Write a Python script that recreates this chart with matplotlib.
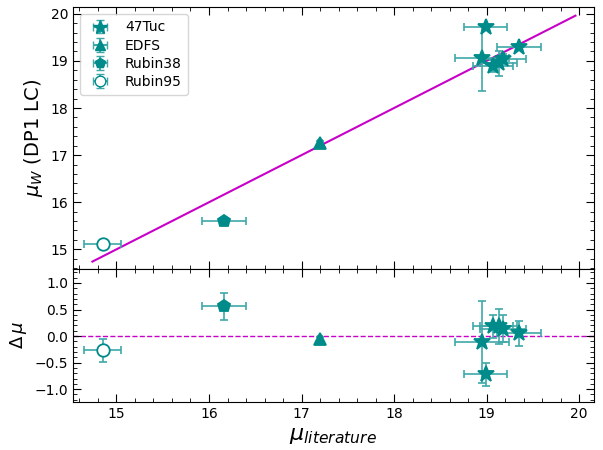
import matplotlib
matplotlib.use("Agg")
import matplotlib.pyplot as plt
from matplotlib.ticker import MultipleLocator
import numpy as np

# 47Tuc stars
tuc_x = [18.99, 19.35, 18.95, 19.07, 19.13, 19.18]
tuc_xerr = [0.23, 0.24, 0.29, 0.22, 0.20, 0.25]
tuc_y = [19.71, 19.30, 19.06, 18.89, 18.95, 19.04]
tuc_yerr = [0.05, 0.06, 0.70, 0.12, 0.27, 0.10]
tuc_d = [-0.72, 0.05, -0.11, 0.18, 0.18, 0.14]
tuc_derr = [0.22, 0.24, 0.77, 0.22, 0.33, 0.25]

# EDFS
edfs_x = [17.20]
edfs_xerr = [0.02]
edfs_y = [17.26]
edfs_yerr = [0.04]
edfs_d = [-0.06]
edfs_derr = [0.04]

# Rubin38
r38_x = [16.16]
r38_xerr = [0.24]
r38_y = [15.60]
r38_yerr = [0.02]
r38_d = [0.56]
r38_derr = [0.25]

# Rubin95
r95_x = [14.85]
r95_xerr = [0.20]
r95_y = [15.12]
r95_yerr = [0.02]
r95_d = [-0.27]
r95_derr = [0.21]

line_x = [14.74, 19.96]

col = '#008b8b'
ecol = '#40a8a8'

fig = plt.figure(figsize=(6.03, 4.5), dpi=100)
ax1 = fig.add_axes([0.121, 0.403, 0.864, 0.581])
ax2 = fig.add_axes([0.121, 0.107, 0.864, 0.296], sharex=ax1)

groups = [
    ('47Tuc', tuc_x, tuc_xerr, tuc_y, tuc_yerr, tuc_d, tuc_derr, dict(marker='*', ms=12, mfc=col)),
    ('EDFS', edfs_x, edfs_xerr, edfs_y, edfs_yerr, edfs_d, edfs_derr, dict(marker='^', ms=8, mfc=col)),
    ('Rubin38', r38_x, r38_xerr, r38_y, r38_yerr, r38_d, r38_derr, dict(marker='p', ms=9, mfc=col)),
    ('Rubin95', r95_x, r95_xerr, r95_y, r95_yerr, r95_d, r95_derr, dict(marker='o', ms=9, mfc='white')),
]

ax1.plot(line_x, line_x, color='#c800c8', lw=1.5, zorder=1)
for name, x, xe, y, ye, d, de, st in groups:
    ax1.errorbar(x, y, xerr=xe, yerr=ye, fmt='none', ecolor=ecol, elinewidth=1.2,
                 capsize=3, capthick=1.2, zorder=2)
    ax1.plot(x, y, ls='none', color=col, mec=col, mew=1.3, zorder=3, **st)
    ax2.errorbar(x, d, xerr=xe, yerr=de, fmt='none', ecolor=ecol, elinewidth=1.2,
                 capsize=3, capthick=1.2, zorder=2)
    ax2.plot(x, d, ls='none', color=col, mec=col, mew=1.3, zorder=3, **st)

# legend handles
handles = []
for name, x, xe, y, ye, d, de, st in groups:
    h = ax1.errorbar([np.nan], [np.nan], xerr=[0.1], yerr=[0.1], ls='none', color=col,
                     mec=col, ecolor=ecol, capsize=3, label=name, **st)
    handles.append(h)
ax1.legend(handles=handles, loc='upper left', fontsize=10, handletextpad=0.8,
           borderpad=0.45, labelspacing=0.3, markerscale=0.85, framealpha=0.8)

ax2.axhline(0, color='#c800c8', ls='--', lw=1, zorder=1)

ax1.set_xlim(14.53, 20.16)
ax1.set_ylim(14.59, 20.14)
ax2.set_ylim(-1.24, 1.27)

for ax in (ax1, ax2):
    ax.tick_params(which='both', direction='in', top=True, right=True, labelsize=10)
    ax.tick_params(which='major', length=6)
    ax.tick_params(which='minor', length=3)
    ax.xaxis.set_major_locator(MultipleLocator(1))
    ax.xaxis.set_minor_locator(MultipleLocator(0.2))
ax1.yaxis.set_major_locator(MultipleLocator(1))
ax1.yaxis.set_minor_locator(MultipleLocator(0.2))
ax2.yaxis.set_major_locator(MultipleLocator(0.5))
ax2.yaxis.set_minor_locator(MultipleLocator(0.1))
ax1.tick_params(labelbottom=False)

ax1.set_ylabel(r'$\mu_W$ (DP1 LC)', fontsize=14)
ax2.set_ylabel(r'$\Delta\,\mu$', fontsize=13)
ax2.set_xlabel(r'$\mu_{literature}$', fontsize=16)

fig.savefig('out.png', dpi=100)
